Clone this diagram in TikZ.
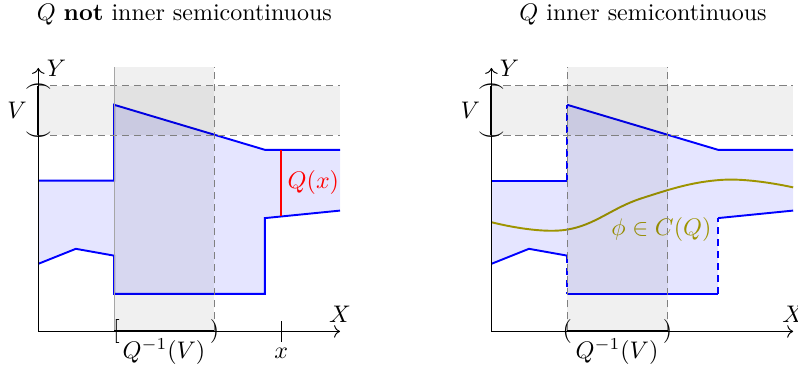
\documentclass[tikz,border=0pt]{standalone}
\usetikzlibrary{arrows.meta}
\definecolor{qblue}{RGB}{0,0,255}
\definecolor{selcol}{RGB}{158,148,0}
\newcommand{\qregion}{(0,2.21) -- (1.11,2.21) -- (1.11,3.32) -- (3.32,2.66) -- (4.42,2.66) -- (4.42,1.77) -- (3.32,1.66) -- (3.32,0.55) -- (1.11,0.55) -- (1.11,1.11) -- (0.55,1.21) -- (0,0.99) -- cycle}

\begin{document}
\begin{tikzpicture}[
  band/.style={fill=black,fill opacity=0.06},
  edge/.style={black!50,dash pattern=on 3pt off 2pt},
  bnd/.style={qblue,thick},
  jump/.style={qblue,thick,dash pattern=on 3pt off 2pt},
  glyph/.style={inner sep=0pt},
]
\useasboundingbox (0,0) rectangle (11.69,5.43);
\node (tleft) at (2.70,5.21) {$Q$ \textbf{not} inner semicontinuous};
\node (tright) at (9.42,5.21) {$Q$ inner semicontinuous};

% not inner semicontinuous
\begin{scope}[shift={(0.561,0.575)}]
\fill[qblue!10] \qregion;
\draw[bnd] (0,2.21) -- (1.11,2.21) -- (1.11,3.32) -- (3.32,2.66) -- (4.42,2.66);
\draw[bnd] (0,0.99) -- (0.55,1.21) -- (1.11,1.11) -- (1.11,0.55) -- (3.32,0.55) -- (3.32,1.66) -- (4.42,1.77);
\draw[red,thick] (3.56,2.66) -- (3.56,1.685);
\node[red] (qx) at (4.03,2.18) {$Q(x)$};
\fill[band] (0,2.875) rectangle (4.42,3.597);
\fill[band] (1.11,0) rectangle (2.58,3.88);
\draw[edge] (0,2.875) -- (4.42,2.875) (0,3.597) -- (4.42,3.597) (2.58,0) -- (2.58,3.88);
\draw[black!35] (1.11,0) -- (1.11,3.88);
\draw[->] (0,0) -- (4.42,0) node[above] (xa) {$X$};
\draw[->] (0,0) -- (0,3.86) node[right] (ya) {$Y$};
\draw[thick] (1.11,0) -- (2.58,0);
\draw[thick] (0,2.875) -- (0,3.597);
\node[glyph,xshift=1pt] (lo) at (1.11,0) {$[$};
\node[glyph] (hi) at (2.58,0) {$)$};
\node[glyph,rotate=-90] (vhi) at (0,3.597) {$($};
\node[glyph,rotate=-90] (vlo) at (0,2.875) {$)$};
\node (vl) at (-0.31,3.24) {$V$};
\node (qinv) at (1.84,-0.30) {$Q^{-1}(V)$};
\draw (3.56,0.15) -- (3.56,-0.15);
\node (xt) at (3.56,-0.32) {$x$};
\end{scope}

% inner semicontinuous
\begin{scope}[shift={(7.199,0.575)}]
\fill[qblue!10] \qregion;
\draw[bnd] (0,2.21) -- (1.11,2.21);
\draw[jump] (1.11,2.21) -- (1.11,3.32);
\draw[bnd] (1.11,3.32) -- (3.32,2.66) -- (4.42,2.66);
\draw[bnd] (0,0.99) -- (0.55,1.21) -- (1.11,1.11);
\draw[jump] (1.11,1.11) -- (1.11,0.55);
\draw[bnd] (1.11,0.55) -- (3.32,0.55);
\draw[jump] (3.32,0.55) -- (3.32,1.66);
\draw[bnd] (3.32,1.66) -- (4.42,1.77);
\draw[selcol,thick] plot[smooth,tension=0.7] coordinates {(0,1.60) (1.10,1.49) (2.2,1.95) (3.37,2.22) (4.42,2.11)};
\node[selcol] (phi) at (2.49,1.50) {$\phi\in C(Q)$};
\fill[band] (0,2.875) rectangle (4.42,3.597);
\fill[band] (1.11,0) rectangle (2.58,3.88);
\draw[edge] (0,2.875) -- (4.42,2.875) (0,3.597) -- (4.42,3.597) (1.11,0) -- (1.11,3.88) (2.58,0) -- (2.58,3.88);
\draw[->] (0,0) -- (4.42,0) node[above] (xb) {$X$};
\draw[->] (0,0) -- (0,3.86) node[right] (yb) {$Y$};
\draw[thick] (1.11,0) -- (2.58,0);
\draw[thick] (0,2.875) -- (0,3.597);
\node[glyph] (lo2) at (1.11,0) {$($};
\node[glyph] (hi2) at (2.58,0) {$)$};
\node[glyph,rotate=-90] (vhi2) at (0,3.597) {$($};
\node[glyph,rotate=-90] (vlo2) at (0,2.875) {$)$};
\node (vl2) at (-0.31,3.24) {$V$};
\node (qinv2) at (1.84,-0.30) {$Q^{-1}(V)$};
\end{scope}
\end{tikzpicture}
\end{document}
